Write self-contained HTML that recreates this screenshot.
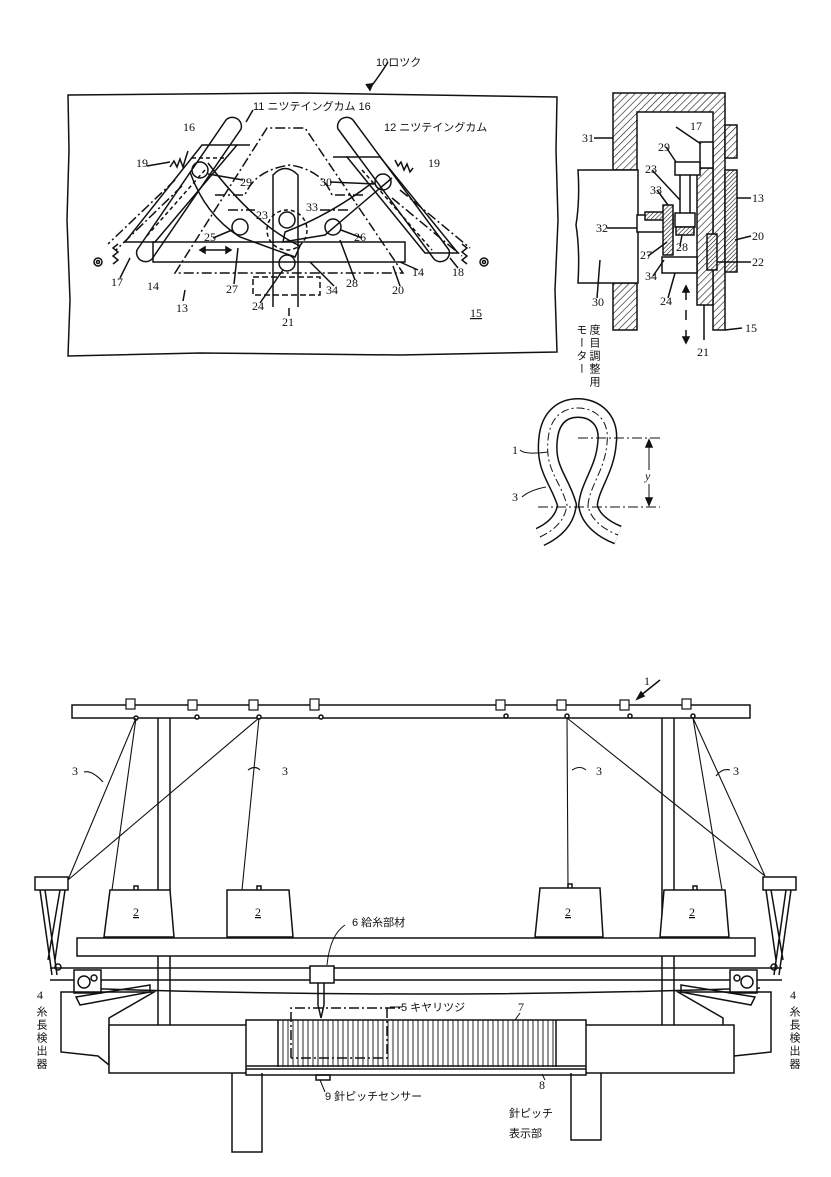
<!DOCTYPE html>
<html><head><meta charset="utf-8"><style>
html,body{margin:0;padding:0;background:#fff}
svg{display:block}
text{font-family:"Liberation Serif","Noto Sans CJK JP",serif;font-size:12px;fill:#111}
.j{font-family:"Liberation Sans","Noto Sans CJK JP",sans-serif;font-size:11px}
</style></head><body>
<svg width="831" height="1177" viewBox="0 0 831 1177" xmlns="http://www.w3.org/2000/svg">
<defs>
<pattern id="h" width="5" height="5" patternUnits="userSpaceOnUse" patternTransform="rotate(45)">
<rect width="5" height="5" fill="#fff"/><line x1="0" y1="0" x2="0" y2="5" stroke="#111" stroke-width="1.2"/></pattern>
<pattern id="h2" width="3" height="3" patternUnits="userSpaceOnUse" patternTransform="rotate(45)">
<rect width="3" height="3" fill="#fff"/><line x1="0" y1="0" x2="0" y2="3" stroke="#111" stroke-width="1.2"/></pattern>
</defs>
<g fill="none" stroke="#111" stroke-width="1.5">
<!-- ===== Fig top-left ===== -->
<path d="M388,62 Q380,75 370,88" /><path d="M366,84 L370,90 L373,83" fill="#111"/>
<path d="M68,95 L300,93 L557,97 L556,150 L558,220 L555,290 L557,352 L400,355 L200,353 L68,356 L70,300 L67,220 L69,150 Z"/>
<path d="M137,250 L226,120 A9,9 0 0 1 241,129 L152,259 A9,9 0 0 1 137,250Z"/>
<path d="M338,129 A9,9 0 0 1 353,120 L449,250 A9,9 0 0 1 434,259 Z"/>
<path d="M202,145 L237,145 L155,242 L125,242 Z"/>
<path d="M347,157 L380,157 L458,253 L425,253 Z"/>
<path d="M192,158 L227,158 M205,170 L145,238 M362,170 L432,250" stroke-dasharray="4 3"/>
<path d="M237,145 L250,145 M333,157 L347,157"/>
<path d="M175,180 L108,244 M182,186 L116,250 M400,190 L470,248 M392,198 L462,256" stroke-dasharray="10 3 2 3"/>
<path d="M175,273 L267,128 L305,128 L403,273 Z" stroke-dasharray="10 3 2 3"/>
<path d="M215,195 L245,195 Q255,170 290,165 Q322,170 332,195 L365,195" stroke-dasharray="10 3 2 3"/>
<path d="M228,210 L255,210 M320,210 L350,210" stroke-dasharray="10 3 2 3"/>
<path d="M153,242 L405,242 L405,262 L153,262 Z"/>
<path d="M203,250 L228,250"/><path d="M200,250 l5,-3 v6z M231,250 l-5,-3 v6z" fill="#111"/>
<path d="M273,307 L273,175 Q285,162 298,175 L298,307"/>
<circle cx="287" cy="220" r="8"/><circle cx="287" cy="263" r="8"/>
<circle cx="287" cy="230" r="20" stroke-dasharray="4 3"/>
<rect x="253" y="277" width="67" height="18" stroke-dasharray="6 3"/>
<path d="M190,172 Q205,215 240,237 L295,257 L300,246 Q255,225 208,163"/>
<path d="M392,178 Q360,205 325,235 L283,242 L285,232 Q330,215 372,183"/>
<circle cx="200" cy="170" r="8"/><circle cx="383" cy="182" r="8"/>
<circle cx="240" cy="227" r="8"/><circle cx="333" cy="227" r="8"/>
<path d="M170,167 l4,-6 l3,6 l3,-8 l3,8 l3,-10 l2,-6"/>
<path d="M395,160 l3,6 l3,-4 l3,8 l3,-6 l3,8 l3,-4"/>
<path d="M118,244 l-5,4 l5,4 l-5,4 l5,4 l-5,4"/><circle cx="98" cy="262" r="4"/><circle cx="98" cy="262" r="1.5"/>
<path d="M462,244 l5,4 l-5,4 l5,4 l-5,4 l5,4"/><circle cx="484" cy="262" r="4"/><circle cx="484" cy="262" r="1.5"/>
<path d="M253,110 L246,122 M147,166 L170,162 M243,180 L208,174 M213,238 L232,230 M330,182 L375,184 M362,238 L341,230 M120,278 L130,258 M234,284 L238,248 M260,303 L283,270 M289,316 L289,308 M334,286 L310,262 M355,280 L340,240 M400,286 L393,266 M418,270 L400,262 M458,268 L450,258 M183,301 L185,290"/>
<!-- ===== Fig right section ===== -->
<path d="M613,93 H725 V330 H713 V112 H637 V170 H613 Z" fill="url(#h)"/>
<path d="M613,283 H637 V330 H613 Z" fill="url(#h)"/>
<rect x="725" y="125" width="12" height="33" fill="url(#h)"/>
<rect x="725" y="170" width="12" height="102" fill="url(#h2)"/>
<path d="M578,170 H638 V283 H578 Q580,250 576,225 Q580,200 578,170 Z" fill="#fff"/>
<rect x="697" y="168" width="16" height="137" fill="url(#h)"/>
<rect x="700" y="142" width="13" height="26" fill="#fff"/>
<rect x="675" y="162" width="25" height="13" fill="#fff"/>
<path d="M680,175 V213 M690,175 V213"/>
<rect x="637" y="215" width="36" height="17" fill="#fff"/>
<rect x="645" y="212" width="20" height="8" fill="url(#h2)"/>
<rect x="663" y="205" width="10" height="50" fill="url(#h2)"/>
<rect x="675" y="213" width="20" height="14" fill="#fff"/>
<rect x="676" y="227" width="18" height="8" fill="url(#h2)"/>
<rect x="662" y="257" width="35" height="16" fill="#fff"/>
<rect x="707" y="234" width="10" height="36" fill="url(#h2)"/>
<path d="M686,290 V300 M686,310 V320 M686,330 V340"/><path d="M686,286 l-3,6 h6z M686,343 l-3,-6 h6z" fill="#111"/>
<path d="M594,138 L613,138 M676,127 L701,144 M666,147 L676,162 M652,170 L680,200 M657,190 L668,205 M751,198 L737,198 M751,236 L735,240 M751,262 L717,262 M607,228 L637,228 M648,256 L667,242 M680,246 L682,235 M653,276 L664,260 M668,298 L675,273 M742,328 L725,330 M704,340 L704,305 M597,298 L600,260"/>
<!-- ===== Loop fig ===== -->
<path d="M540,537 C555,530 565,520 567,505 C560,480 545,470 548,440 C550,415 565,408 578,408 C595,408 610,420 607,443 C605,470 590,485 588,505 C590,520 605,530 618,535" stroke="#111" stroke-width="20" stroke-linecap="butt"/>
<path d="M540,537 C555,530 565,520 567,505 C560,480 545,470 548,440 C550,415 565,408 578,408 C595,408 610,420 607,443 C605,470 590,485 588,505 C590,520 605,530 618,535" stroke="#fff" stroke-width="17" stroke-linecap="butt"/>
<path d="M540,537 C555,530 565,520 567,505 C560,480 545,470 548,440 C550,415 565,408 578,408 C595,408 610,420 607,443 C605,470 590,485 588,505 C590,520 605,530 618,535" stroke-width="1" stroke-dasharray="8 3 2 3"/>
<path d="M578,438 H660 M538,507 H660" stroke-width="1" stroke-dasharray="10 3 2 3"/>
<path d="M649,440 V470 M649,484 V505" stroke-width="1"/><path d="M649,440 l-3,7 h6z M649,505 l-3,-7 h6z" fill="#111"/>
<path d="M520,450 Q525,455 548,452 M522,497 Q530,490 546,487" stroke-width="1"/>
<!-- ===== Bottom fig ===== -->
<path d="M660,680 L640,696"/><path d="M637,699 l7,-3 l-3,-4z" fill="#111"/>
<rect x="72" y="705" width="678" height="13"/>
<g stroke-width="1.2">
<rect x="126" y="699" width="9" height="10" fill="#fff"/><rect x="188" y="700" width="9" height="10" fill="#fff"/><rect x="249" y="700" width="9" height="10" fill="#fff"/><rect x="310" y="699" width="9" height="11" fill="#fff"/>
<rect x="496" y="700" width="9" height="10" fill="#fff"/><rect x="557" y="700" width="9" height="10" fill="#fff"/><rect x="620" y="700" width="9" height="10" fill="#fff"/><rect x="682" y="699" width="9" height="10" fill="#fff"/>
</g>
<g fill="#fff"><circle cx="136" cy="718" r="2"/><circle cx="197" cy="717" r="2"/><circle cx="259" cy="717" r="2"/><circle cx="321" cy="717" r="2"/><circle cx="506" cy="716" r="2"/><circle cx="567" cy="716" r="2"/><circle cx="630" cy="716" r="2"/><circle cx="693" cy="716" r="2"/></g>
<path d="M158,718 V1025 M170,718 V1025 M662,718 V1025 M674,718 V1025"/>
<g stroke-width="1.1">
<path d="M136,718 L68,880 M136,718 L112,890 M259,718 L68,880 M259,718 L242,890 M567,718 L568,888 M567,718 L765,876 M693,718 L765,876 M693,718 L722,890"/>
<path d="M84,772 Q92,770 103,782 M260,770 Q255,765 248,770 M586,770 Q580,765 572,770 M730,770 Q722,768 716,776"/>
</g>
<path d="M35,877 H68 V890 H35 Z M40,890 L52,975 M45,890 L57,975 M65,890 L55,960 M60,890 L48,960"/>
<path d="M796,877 H763 V890 H796 Z M791,890 L779,975 M786,890 L774,975 M766,890 L776,960 M771,890 L783,960"/>
<path d="M110,890 H170 L174,937 H104 Z M227,890 H289 L293,937 H227 Z M540,888 H600 L603,937 H535 Z M664,890 H725 L729,937 H660 Z" fill="#fff"/>
<path d="M134,890 v-4 h4 v4 M257,890 v-4 h4 v4 M568,888 v-4 h4 v4 M693,890 v-4 h4 v4"/>
<rect x="77" y="938" width="678" height="18" fill="#fff"/>
<path d="M50,968 H782 M50,980 H782 M74,988 Q416,1000 760,988"/>
<rect x="310" y="966" width="24" height="17" fill="#fff"/>
<path d="M318,983 V1005 M324,983 V1005 M318,1005 L321,1018 L324,1005"/>
<path d="M327,965 Q330,935 345,925" stroke-width="1"/>
<rect x="74" y="970" width="27" height="23" fill="#fff"/><circle cx="84" cy="982" r="6"/><circle cx="94" cy="978" r="3"/>
<path d="M76,997 L150,985 L150,992 L80,1005 Z"/>
<rect x="730" y="970" width="27" height="23" fill="#fff"/><circle cx="747" cy="982" r="6"/><circle cx="737" cy="978" r="3"/>
<path d="M755,997 L681,985 L681,992 L751,1005 Z"/>
<circle cx="58" cy="967" r="3"/><circle cx="774" cy="967" r="3"/>
<path d="M61,992 L154,992 L109,1018 L109,1065 L98,1056 L61,1052 Z"/>
<path d="M771,992 L678,992 L723,1018 L723,1065 L734,1056 L771,1052 Z"/>
<rect x="109" y="1025" width="625" height="48" fill="#fff"/>
<rect x="246" y="1020" width="340" height="55" fill="#fff"/>
<path d="M278,1020 V1067 M556,1020 V1067 M246,1066 H586 M246,1069 H586" />
<path d="M283,1020V1067M288,1020V1067M293,1020V1067M298,1020V1067M303,1020V1067M308,1020V1067M313,1020V1067M318,1020V1067M323,1020V1067M328,1020V1067M333,1020V1067M338,1020V1067M343,1020V1067M348,1020V1067M353,1020V1067M358,1020V1067M363,1020V1067M368,1020V1067M373,1020V1067M378,1020V1067M383,1020V1067M388,1020V1067M393,1020V1067M398,1020V1067M403,1020V1067M408,1020V1067M413,1020V1067M418,1020V1067M423,1020V1067M428,1020V1067M433,1020V1067M438,1020V1067M443,1020V1067M448,1020V1067M453,1020V1067M458,1020V1067M463,1020V1067M468,1020V1067M473,1020V1067M478,1020V1067M483,1020V1067M488,1020V1067M493,1020V1067M498,1020V1067M503,1020V1067M508,1020V1067M513,1020V1067M518,1020V1067M523,1020V1067M528,1020V1067M533,1020V1067M538,1020V1067M543,1020V1067M548,1020V1067M553,1020V1067" stroke-width="0.9"/>
<path d="M291,1058 V1008 H400 M387,1008 V1058 H291" stroke-dasharray="10 3 2 3"/>
<rect x="316" y="1075" width="14" height="5"/>
<path d="M232,1073 V1152 H262 V1073 M571,1073 V1140 H601 V1073" />
<path d="M520,1013 L515,1020 M545,1080 L542,1074 M325,1092 L320,1080 M402,1007 L390,1007" stroke-width="1"/>
</g>
<text x="376" y="66" class="j">10ロツク</text>
<text x="253" y="110" class="j">11 ニツテイングカム 16</text>
<text x="384" y="131" class="j">12 ニツテイングカム</text>
<text x="183" y="131">16</text><text x="136" y="167">19</text><text x="428" y="167">19</text>
<text x="240" y="186">29</text><text x="320" y="186">30</text>
<text x="256" y="219">23</text><text x="306" y="211">33</text>
<text x="204" y="241">25</text><text x="354" y="241">26</text>
<text x="111" y="286">17</text><text x="147" y="290">14</text><text x="226" y="293">27</text><text x="252" y="310">24</text>
<text x="282" y="326">21</text><text x="176" y="312">13</text><text x="326" y="294">34</text><text x="346" y="287">28</text>
<text x="392" y="294">20</text><text x="412" y="276">14</text><text x="452" y="276">18</text>
<text x="470" y="317" text-decoration="underline">15</text>
<text x="582" y="142">31</text><text x="690" y="130">17</text><text x="658" y="151">29</text><text x="645" y="173">23</text>
<text x="650" y="194">33</text><text x="752" y="202">13</text><text x="752" y="240">20</text><text x="752" y="266">22</text>
<text x="596" y="232">32</text><text x="640" y="259">27</text><text x="676" y="251">28</text><text x="645" y="280">34</text>
<text x="660" y="305">24</text><text x="745" y="332">15</text><text x="697" y="356">21</text><text x="592" y="306">30</text>
<text class="j" x="594" y="324" style="writing-mode:vertical-rl;letter-spacing:2px">度目調整用</text>
<text class="j" x="581" y="324" style="writing-mode:vertical-rl;letter-spacing:2px">モーター</text>
<text x="512" y="454">1</text><text x="512" y="501">3</text><text x="645" y="480" style="font-style:italic">y</text>
<text x="644" y="685">1</text>
<text x="72" y="775">3</text><text x="282" y="775">3</text><text x="596" y="775">3</text><text x="733" y="775">3</text>
<g style="font-size:13px;text-decoration:underline">
<text x="133" y="916">2</text><text x="255" y="916">2</text><text x="565" y="916">2</text><text x="689" y="916">2</text></g>
<text x="352" y="926" class="j">6 給糸部材</text>
<text x="401" y="1011" class="j">5 キヤリツジ</text>
<text x="518" y="1011">7</text>
<text x="325" y="1100" class="j">9 針ピッチセンサー</text>
<text x="539" y="1089">8</text>
<text x="509" y="1117" class="j">針ピッチ</text><text x="509" y="1137" class="j">表示部</text>
<text x="37" y="999">4</text><text x="790" y="999">4</text>
<text class="j" x="41" y="1006" style="writing-mode:vertical-rl;letter-spacing:2px">糸長検出器</text>
<text class="j" x="794" y="1006" style="writing-mode:vertical-rl;letter-spacing:2px">糸長検出器</text>
</svg>
</body></html>
